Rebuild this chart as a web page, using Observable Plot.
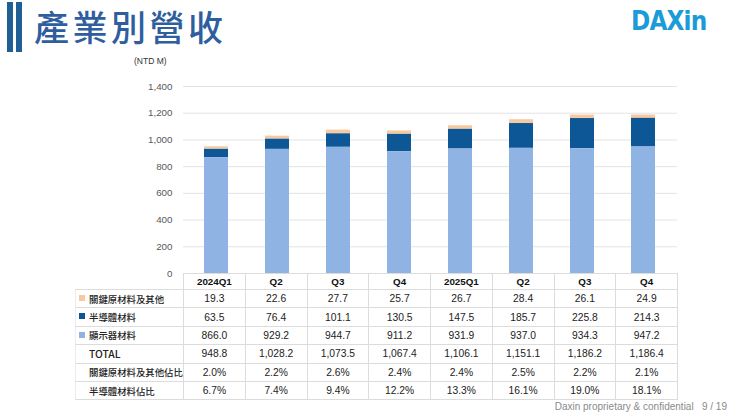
<!DOCTYPE html>
<html><head><meta charset="utf-8">
<script src="https://cdn.jsdelivr.net/npm/d3@7"></script>
<script src="https://cdn.jsdelivr.net/npm/@observablehq/plot@0.6"></script>
<style>
body{margin:0;width:740px;height:417px;overflow:hidden;background:#fff;position:relative;font-family:"Noto Sans CJK TC","Noto Sans",sans-serif;}
.vbar{position:absolute;top:2px;height:50px;width:6px;background:#1f5f96;}
#title{position:absolute;left:34px;top:4px;font-size:35px;line-height:44px;color:#2e5e9e;letter-spacing:3.5px;font-weight:500;}
#logo{position:absolute;left:631px;top:5px;font-family:"DejaVu Sans",sans-serif;font-weight:bold;font-size:27px;color:#1b9bd7;letter-spacing:-1px;transform:scaleX(0.86);transform-origin:left top;}
#unit{position:absolute;left:134px;top:56px;font-family:"Liberation Sans",sans-serif;font-size:8.5px;color:#333;}
#chart{position:absolute;left:0;top:60px;}
#tbl{position:absolute;left:75px;top:273px;border-collapse:collapse;table-layout:fixed;}
#tbl td{border:1px solid #dcdcdc;padding:0;text-align:center;font-family:"Liberation Sans",sans-serif;font-size:10.3px;color:#222;white-space:nowrap;overflow:visible;}
#tbl tr.h td{height:15px;font-weight:bold;font-size:9.8px;color:#111;}
#tbl tr.r td{height:17.4px;}
#tbl td.lab{text-align:left;padding-left:13px;font-family:"Noto Sans CJK TC",sans-serif;font-size:9.4px;position:relative;border-left:1px solid #ececec;font-weight:500;}
#tbl td.lab.en{font-size:10.3px;}
#tbl td.blank{border:none;}
.sw{position:absolute;left:3px;top:5px;width:6px;height:6px;}
#foot{position:absolute;right:13px;top:401px;font-family:"Liberation Sans",sans-serif;font-size:10px;color:#8a8a8a;white-space:pre;}
</style></head><body>
<div class="vbar" style="left:7px"></div>
<div class="vbar" style="left:16px"></div>
<div id="title">產業別營收</div>
<div id="logo">DAXin</div>
<div id="unit">(NTD M)</div>
<div id="chart"></div>
<table id="tbl"></table>
<div id="foot">Daxin proprietary &amp; confidential   9 / 19</div>
<script>
const periods = ["2024Q1","2024Q2","2024Q3","2024Q4","2025Q1","2025Q2","2025Q3","2025Q4"];
const tickLabels = ["2024Q1","Q2","Q3","Q4","2025Q1","Q2","Q3","Q4"];
const seriesNames = ["關鍵原材料及其他","半導體材料","顯示器材料"];
const seriesColors = ["#f8c9a1","#0d5797","#8fb3e2"];
const keyMaterials = [19.3,22.6,27.7,25.7,26.7,28.4,26.1,24.9];
const semiconductor = [63.5,76.4,101.1,130.5,147.5,185.7,225.8,214.3];
const display = [866.0,929.2,944.7,911.2,931.9,937.0,934.3,947.2];
const totals = [948.8,1028.2,1073.5,1067.4,1106.1,1151.1,1186.2,1186.4];
const keyShare = [2.0,2.2,2.6,2.4,2.4,2.5,2.2,2.1];
const semiShare = [6.7,7.4,9.4,12.2,13.3,16.1,19.0,18.1];
const yTicks = [0,200,400,600,800,1000,1200,1400];

const seriesValues = [keyMaterials, semiconductor, display];
const rows = [];
seriesNames.forEach((s,i)=>periods.forEach((p,j)=>rows.push({period:p, series:s, value:seriesValues[i][j]})));

const chart = Plot.plot({
  width:740, height:227,
  marginLeft:183, marginRight:63, marginTop:26, marginBottom:14,
  style:{fontFamily:"'Liberation Sans',sans-serif", fontSize:"9.8px", color:"#595959", background:"transparent", overflow:"visible"},
  x:{domain:periods, axis:null, paddingInner:0.6, paddingOuter:0.3},
  y:{domain:[0,1400], axis:null},
  color:{domain:seriesNames, range:seriesColors},
  marks:[
    Plot.gridY(yTicks, {stroke:"#e3e3e3", strokeOpacity:1}),
    Plot.barY(rows, {x:"period", y:"value", fill:"series", order:["顯示器材料","半導體材料","關鍵原材料及其他"]}),
    Plot.axisY(yTicks, {tickSize:0, tickPadding:11, label:null, tickFormat:d3.format(","), fill:"#595959"})
  ]
});
document.getElementById("chart").appendChild(chart);

const f1 = d3.format(",.1f");
const pct = v => d3.format(".1f")(v) + "%";
const tbl = document.getElementById("tbl");
let html = '<colgroup><col style="width:108px">' + periods.map(()=>'<col style="width:61.75px">').join("") + '</colgroup>';
html += '<tr class="h"><td class="blank"></td>' + tickLabels.map(t=>`<td>${t}</td>`).join("") + '</tr>';
const bodyRows = [
  {label:seriesNames[0], color:seriesColors[0], vals:keyMaterials.map(f1)},
  {label:seriesNames[1], color:seriesColors[1], vals:semiconductor.map(f1)},
  {label:seriesNames[2], color:seriesColors[2], vals:display.map(f1)},
  {label:"TOTAL", en:true, vals:totals.map(f1)},
  {label:"關鍵原材料及其他佔比", vals:keyShare.map(pct)},
  {label:"半導體材料佔比", vals:semiShare.map(pct)}
];
bodyRows.forEach(r=>{
  html += `<tr class="r"><td class="lab${r.en?' en':''}">${r.color?`<span class="sw" style="background:${r.color}"></span>`:''}${r.label}</td>` + r.vals.map(v=>`<td>${v}</td>`).join("") + '</tr>';
});
tbl.innerHTML = html;
</script>
</body></html>
